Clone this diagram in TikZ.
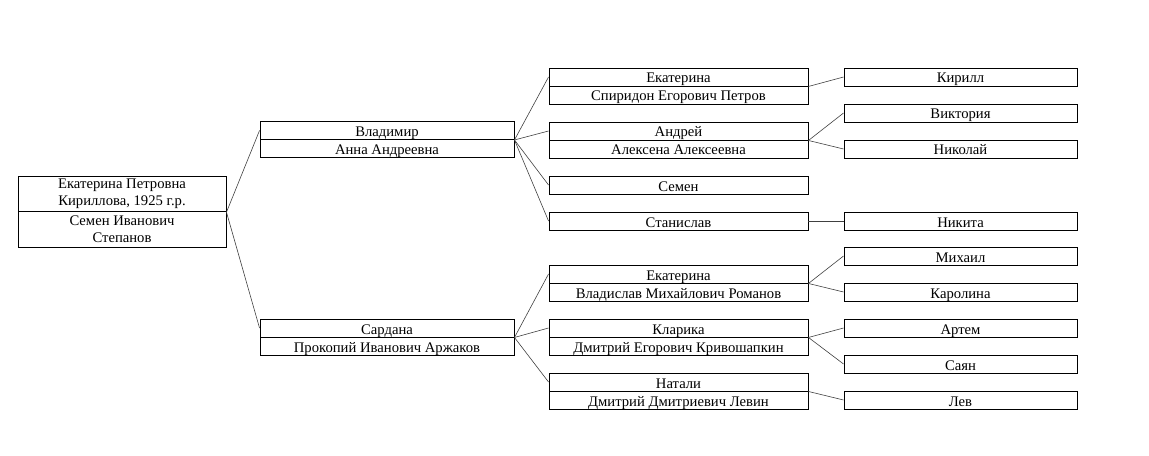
\documentclass[tikz,border=0pt]{standalone}
\usepackage{fontspec}
\setmainfont{Liberation Serif}
\tikzset{
  part/.style={draw, line width=0.7pt, inner sep=0pt, minimum height=13.5pt,
    minimum width=#1, font=\fontsize{11}{13}\selectfont, align=center,
    text height=10.5pt, text depth=1.5pt},
  link/.style={draw=black!75, line width=0.45pt}
}
\begin{document}
\begin{tikzpicture}[x=0.75pt, y=-0.75pt]
    \useasboundingbox (0,0) rectangle (1149,456);
    % root couple
    \node[part=156pt, minimum height=26.6pt, text height=, text depth=](root) at (122,194){Екатерина Петровна\\Кириллова, 1925 г.р.};
    \node[part=156pt, minimum height=26.6pt, text height=, text depth=](rootsp) at (122,229.5){Семен Иванович\\Степанов};
    % second generation
    \node[part=190.5pt](vlad) at (387,130.5){Владимир};
    \node[part=190.5pt](vladsp) at (387,148.5){Анна Андреевна};
    \node[part=190.5pt](sard) at (387,328){Сардана};
    \node[part=190.5pt](sardsp) at (387,346){Прокопий Иванович Аржаков};
    % third generation
    \node[part=194.25pt](kat) at (678.5,77){Екатерина};
    \node[part=194.25pt](katsp) at (678.5,95){Спиридон Егорович Петров};
    \node[part=194.25pt](andr) at (678.5,131){Андрей};
    \node[part=194.25pt](andrsp) at (678.5,149){Алексена Алексеевна};
    \node[part=194.25pt](semen) at (678.5,185){Семен};
    \node[part=194.25pt](stas) at (678.5,221){Станислав};
    \node[part=194.25pt](katb) at (678.5,274){Екатерина};
    \node[part=194.25pt](katbsp) at (678.5,292){Владислав Михайлович Романов};
    \node[part=194.25pt](klar) at (678.5,328){Кларика};
    \node[part=194.25pt](klarsp) at (678.5,346){Дмитрий Егорович Кривошапкин};
    \node[part=194.25pt](nat) at (678.5,382){Натали};
    \node[part=194.25pt](natsp) at (678.5,400){Дмитрий Дмитриевич Левин};
    % fourth generation
    \node[part=174.75pt](kir) at (960.5,77){Кирилл};
    \node[part=174.75pt](vikt) at (960.5,113){Виктория};
    \node[part=174.75pt](nik) at (960.5,149){Николай};
    \node[part=174.75pt](nikita) at (960.5,221){Никита};
    \node[part=174.75pt](mikh) at (960.5,256){Михаил};
    \node[part=174.75pt](karol) at (960.5,292){Каролина};
    \node[part=174.75pt](artem) at (960.5,328){Артем};
    \node[part=174.75pt](sayan) at (960.5,364){Саян};
    \node[part=174.75pt](lev) at (960.5,400){Лев};
    % links
    \draw[link](root.south east)--(vlad.west);
    \draw[link](root.south east)--(sard.west);
    \draw[link](vlad.south east)--(kat.west);
    \draw[link](vlad.south east)--(andr.west);
    \draw[link](vlad.south east)--(semen.west);
    \draw[link](vlad.south east)--(stas.west);
    \draw[link](sard.south east)--(katb.west);
    \draw[link](sard.south east)--(klar.west);
    \draw[link](sard.south east)--(nat.west);
    \draw[link](kat.south east)--(kir.west);
    \draw[link](andr.south east)--(vikt.west);
    \draw[link](andr.south east)--(nik.west);
    \draw[link](stas.east)--(nikita.west);
    \draw[link](katb.south east)--(mikh.west);
    \draw[link](katb.south east)--(karol.west);
    \draw[link](klar.south east)--(artem.west);
    \draw[link](klar.south east)--(sayan.west);
    \draw[link](nat.south east)--(lev.west);
\end{tikzpicture}
\end{document}
